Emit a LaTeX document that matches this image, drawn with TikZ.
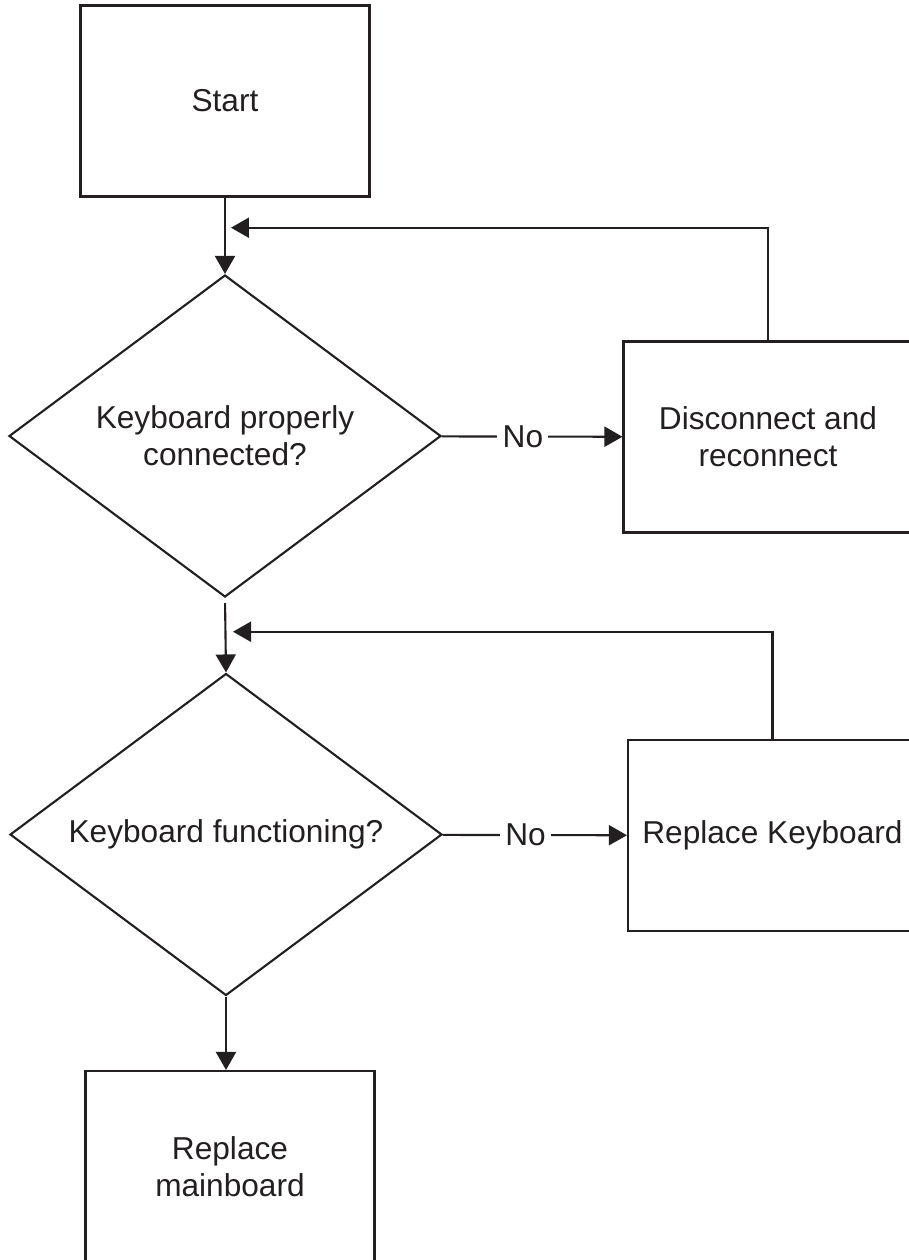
\documentclass[tikz,border=0pt]{standalone}
\usepackage{fontspec}
\setmainfont{Liberation Sans}
\usepackage{tikz}
\usetikzlibrary{positioning,arrows.meta,shapes.geometric}
\definecolor{ink}{HTML}{231F20}

\begin{document}
\begin{tikzpicture}[
    >={Triangle[length=1.8mm, width=2mm]},
    font=\fontsize{9}{10.5}\selectfont,
    line width=0.6pt, draw=ink, text=ink,
    stepbox/.style={draw=ink, rectangle, minimum width=28.9mm, minimum height=19.1mm, align=center, inner sep=0pt},
    test/.style={draw=ink, diamond, aspect=1.34, minimum width=43.2mm, minimum height=32.2mm, align=center, inner sep=0pt},
    flow/.style={draw=ink, ->},
    nolab/.style={fill=white, inner sep=1.5pt, pos=0.45},
  ]
    \useasboundingbox (0,0) rectangle (9.09,-12.6);

    \node[stepbox] (start) at (2.25,-1.01) {Start};
    \node[test] (chk1) at (2.25,-4.36) {Keyboard properly\\connected?};
    \node[stepbox] (fix1) at (7.68,-4.37) {Disconnect and\\reconnect};
    \node[test] (chk2) at (2.26,-8.345) {Keyboard functioning?};
    \node[stepbox] (fix2) at (7.725,-8.355) {Replace Keyboard};
    \node[stepbox] (mainb) at (2.30,-11.665) {Replace\\mainboard};

    \coordinate (back1) at (2.31,-2.277);
    \coordinate (back2) at (2.33,-6.317);

    \draw[flow] (start) -- (chk1);
    \draw[flow] (chk1) -- node[nolab] {No} (fix1);
    \draw[flow] (fix1.north) |- (back1);
    \draw[flow, shorten <=0.5mm] (chk1.south) -- (chk2.north);
    \draw[flow] (chk2) -- node[nolab] {No} (fix2);
    \draw[flow] (fix2.north) |- (back2);
    \draw[flow] (chk2.south) -- (chk2.south |- mainb.north);
  \end{tikzpicture}
\end{document}
